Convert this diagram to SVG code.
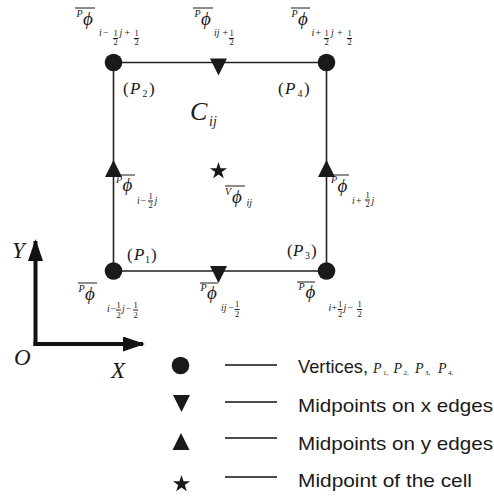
<svg xmlns="http://www.w3.org/2000/svg" width="494" height="502" viewBox="0 0 494 502">
<style>
.m{font-family:"Liberation Serif","Times New Roman",serif;font-style:italic;fill:#1a1a1a}
.u{font-family:"Liberation Serif","Times New Roman",serif;fill:#1a1a1a}
.ph{font-size:19px}
.sp{font-size:10px}
.sb{font-size:10px}
.fr{font-size:8.5px;text-anchor:middle}
.ob{stroke:#1a1a1a;stroke-width:1}
.edge{stroke:#222;stroke-width:1.6;fill:none}
.axis{stroke:#111;stroke-width:4;fill:none}
.leg{stroke:#111;stroke-width:1.3}
.lt{font-family:"Liberation Sans",Arial,sans-serif;font-size:19px;fill:#1a1a1a}
.pl{font-size:17px}
.k{fill:#1a1a1a}
</style>
<defs>
<marker id="ah" viewBox="0 0 22 15" refX="20" refY="7.5" markerWidth="22" markerHeight="15" markerUnits="userSpaceOnUse" orient="auto">
<path d="M0,0 L22,7.5 L0,15 Z" fill="#111"/>
</marker>
<circle id="dot" r="8.8" class="k"/>
<path id="tdn" d="M-8.5,0 L8.5,0 L0,17 Z" class="k"/>
<path id="tup" d="M-8.5,17 L8.5,17 L0,0 Z" class="k"/>
<path id="star" d="M0,-9 L2.06,-2.83 L8.56,-2.78 L3.33,1.08 L5.29,7.28 L0,3.5 L-5.29,7.28 L-3.33,1.08 L-8.56,-2.78 L-2.06,-2.83 Z" class="k"/>
</defs>

<g id="connectors">
<path class="edge" d="M113.5,62.5 H326.5 V271 H113.5 Z"/>
<line class="axis" x1="35.5" y1="346" x2="35.5" y2="241" marker-end="url(#ah)"/>
<line class="axis" x1="33.5" y1="344" x2="143" y2="344" marker-end="url(#ah)"/>
<line class="leg" x1="225" y1="365" x2="277" y2="365"/>
<line class="leg" x1="225" y1="402" x2="277" y2="402"/>
<line class="leg" x1="225" y1="438" x2="277" y2="438"/>
<line class="leg" x1="225" y1="477" x2="277" y2="477"/>
</g>

<g id="P1"><use href="#dot" x="113.5" y="271"/>
<text class="u pl" x="127" y="260">(</text><text class="m pl" x="134" y="260">P</text><text class="u sb" x="145" y="263">1</text><text class="u pl" x="151" y="260">)</text></g>
<g id="P2"><use href="#dot" x="113.5" y="62.5"/>
<text class="u pl" x="123" y="94">(</text><text class="m pl" x="130" y="94">P</text><text class="u sb" x="142.5" y="97">2</text><text class="u pl" x="149" y="94">)</text></g>
<g id="P3"><use href="#dot" x="326.5" y="271"/>
<text class="u pl" x="287" y="256">(</text><text class="m pl" x="293" y="256">P</text><text class="u sb" x="305" y="259">3</text><text class="u pl" x="311" y="256">)</text></g>
<g id="P4"><use href="#dot" x="326.5" y="62.5"/>
<text class="u pl" x="278" y="94">(</text><text class="m pl" x="285" y="94">P</text><text class="u sb" x="297.5" y="97">4</text><text class="u pl" x="304" y="94">)</text></g>

<g id="xedge-top"><use href="#tdn" x="218.5" y="58.5"/></g>
<g id="xedge-bottom"><use href="#tdn" x="218.5" y="266"/></g>
<g id="yedge-left"><use href="#tup" x="113.5" y="160"/></g>
<g id="yedge-right"><use href="#tup" x="326.5" y="160"/></g>
<g id="center"><use href="#star" x="218.5" y="171"/></g>

<g id="cell-label"><text class="m" font-size="26" x="190" y="120">C</text><text class="m" font-size="14" x="209" y="126">ij</text></g>

<g id="lab-tl">
<line class="ob" x1="75" y1="8" x2="95" y2="8"/>
<text class="m sp" x="76.5" y="17">P</text><text class="m ph" x="83" y="25">ϕ</text>
<text class="m sb" x="99" y="36">i</text><text class="u sb" x="103" y="36">−</text>
<text class="u fr" x="115.5" y="35.5">1</text><line class="ob" x1="113" y1="38.5" x2="118" y2="38.5"/><text class="u fr" x="115.5" y="45">2</text>
<text class="m sb" x="119.5" y="36">j</text><text class="u sb" x="124.5" y="36">+</text>
<text class="u fr" x="136.5" y="35.5">1</text><line class="ob" x1="134" y1="38.5" x2="139" y2="38.5"/><text class="u fr" x="136.5" y="45">2</text>
</g>
<g id="lab-tm">
<line class="ob" x1="193" y1="8" x2="213" y2="8"/>
<text class="m sp" x="194.5" y="17">P</text><text class="m ph" x="201" y="25">ϕ</text>
<text class="m sb" x="214" y="36">ij</text><text class="u sb" x="222.5" y="36">+</text>
<text class="u fr" x="231.5" y="35.5">1</text><line class="ob" x1="229" y1="38.5" x2="234" y2="38.5"/><text class="u fr" x="231.5" y="45">2</text>
</g>
<g id="lab-tr">
<line class="ob" x1="291" y1="8" x2="310" y2="8"/>
<text class="m sp" x="291.5" y="17">P</text><text class="m ph" x="298" y="25">ϕ</text>
<text class="m sb" x="311.5" y="36">i</text><text class="u sb" x="315.5" y="36">+</text>
<text class="u fr" x="326.5" y="35.5">1</text><line class="ob" x1="324" y1="38.5" x2="329" y2="38.5"/><text class="u fr" x="326.5" y="45">2</text>
<text class="m sb" x="331" y="36">j</text><text class="u sb" x="337" y="36">+</text>
<text class="u fr" x="349.5" y="35.5">1</text><line class="ob" x1="347" y1="38.5" x2="352" y2="38.5"/><text class="u fr" x="349.5" y="45">2</text>
</g>
<g id="lab-lm">
<line class="ob" x1="117" y1="175" x2="135" y2="175"/>
<text class="m sp" x="116" y="183">P</text><text class="m ph" x="122.5" y="191">ϕ</text>
<text class="m sb" x="137" y="204">i</text><text class="u sb" x="140.5" y="204">−</text>
<text class="u fr" x="150.5" y="198.5">1</text><line class="ob" x1="148" y1="201" x2="153" y2="201"/><text class="u fr" x="150.5" y="208">2</text>
<text class="m sb" x="154.5" y="204">j</text>
</g>
<g id="lab-c">
<line class="ob" x1="225" y1="186" x2="245" y2="186"/>
<text class="m sp" x="225" y="195">V</text><text class="m ph" x="232" y="203">ϕ</text>
<text class="m sb" x="246.5" y="206">ij</text>
</g>
<g id="lab-rm">
<line class="ob" x1="332" y1="175" x2="349" y2="175"/>
<text class="m sp" x="331" y="183">P</text><text class="m ph" x="337.5" y="192">ϕ</text>
<text class="m sb" x="352" y="204">i</text><text class="u sb" x="356" y="204">+</text>
<text class="u fr" x="367.5" y="197.5">1</text><line class="ob" x1="365" y1="200" x2="370" y2="200"/><text class="u fr" x="367.5" y="207">2</text>
<text class="m sb" x="371.5" y="204">j</text>
</g>
<g id="lab-bl">
<line class="ob" x1="78" y1="283" x2="97" y2="283"/>
<text class="m sp" x="78.5" y="292">P</text><text class="m ph" x="85" y="300">ϕ</text>
<text class="m sb" x="107" y="312">i</text><text class="u sb" x="110.5" y="312">−</text>
<text class="u fr" x="118.5" y="307.5">1</text><line class="ob" x1="116" y1="310" x2="121" y2="310"/><text class="u fr" x="118.5" y="317.5">2</text>
<text class="m sb" x="122" y="312">j</text><text class="u sb" x="126" y="312">−</text>
<text class="u fr" x="135.5" y="307.5">1</text><line class="ob" x1="133" y1="310" x2="138" y2="310"/><text class="u fr" x="135.5" y="317.5">2</text>
</g>
<g id="lab-bm">
<line class="ob" x1="200" y1="283" x2="218" y2="283"/>
<text class="m sp" x="200.5" y="291">P</text><text class="m ph" x="207" y="299">ϕ</text>
<text class="m sb" x="221" y="311">ij</text><text class="u sb" x="228.5" y="311">−</text>
<text class="u fr" x="237" y="307">1</text><line class="ob" x1="234.5" y1="309.5" x2="239.5" y2="309.5"/><text class="u fr" x="237" y="317">2</text>
</g>
<g id="lab-br">
<line class="ob" x1="297" y1="282" x2="315" y2="282"/>
<text class="m sp" x="298.5" y="290">P</text><text class="m ph" x="305.5" y="298">ϕ</text>
<text class="m sb" x="328.5" y="311">i</text><text class="u sb" x="331.5" y="311">+</text>
<text class="u fr" x="340" y="307">1</text><line class="ob" x1="337.5" y1="309.5" x2="342.5" y2="309.5"/><text class="u fr" x="340" y="317">2</text>
<text class="m sb" x="343.5" y="311">j</text><text class="u sb" x="347.5" y="311">−</text>
<text class="u fr" x="359.5" y="307">1</text><line class="ob" x1="357" y1="309.5" x2="362" y2="309.5"/><text class="u fr" x="359.5" y="317">2</text>
</g>

<g id="axes-labels">
<text class="m" font-size="23" x="12" y="258">Y</text>
<text class="m" font-size="23" x="14" y="365">O</text>
<text class="m" font-size="23" x="111" y="378">X</text>
</g>

<g id="legend-vertices"><use href="#dot" x="180.5" y="365.5"/>
<text class="lt" x="298" y="373" textLength="70" lengthAdjust="spacingAndGlyphs">Vertices,</text>
<text class="m" font-size="14" x="373" y="373">P</text><text class="u" font-size="7" x="383" y="375">1,</text>
<text class="m" font-size="14" x="393.5" y="373">P</text><text class="u" font-size="7" x="403.5" y="375">2,</text>
<text class="m" font-size="14" x="415" y="373">P</text><text class="u" font-size="7" x="425" y="375">3,</text>
<text class="m" font-size="14" x="438" y="373">P</text><text class="u" font-size="7" x="448" y="375">4.</text>
</g>
<g id="legend-x"><use href="#tdn" x="181.5" y="395"/>
<text class="lt" x="298" y="412" textLength="195" lengthAdjust="spacingAndGlyphs">Midpoints on x edges</text></g>
<g id="legend-y"><use href="#tup" x="181" y="433"/>
<text class="lt" x="298" y="450" textLength="195" lengthAdjust="spacingAndGlyphs">Midpoints on y edges</text></g>
<g id="legend-c"><use href="#star" x="181.5" y="484"/>
<text class="lt" x="298" y="487" textLength="174" lengthAdjust="spacingAndGlyphs">Midpoint of the cell</text></g>
</svg>
